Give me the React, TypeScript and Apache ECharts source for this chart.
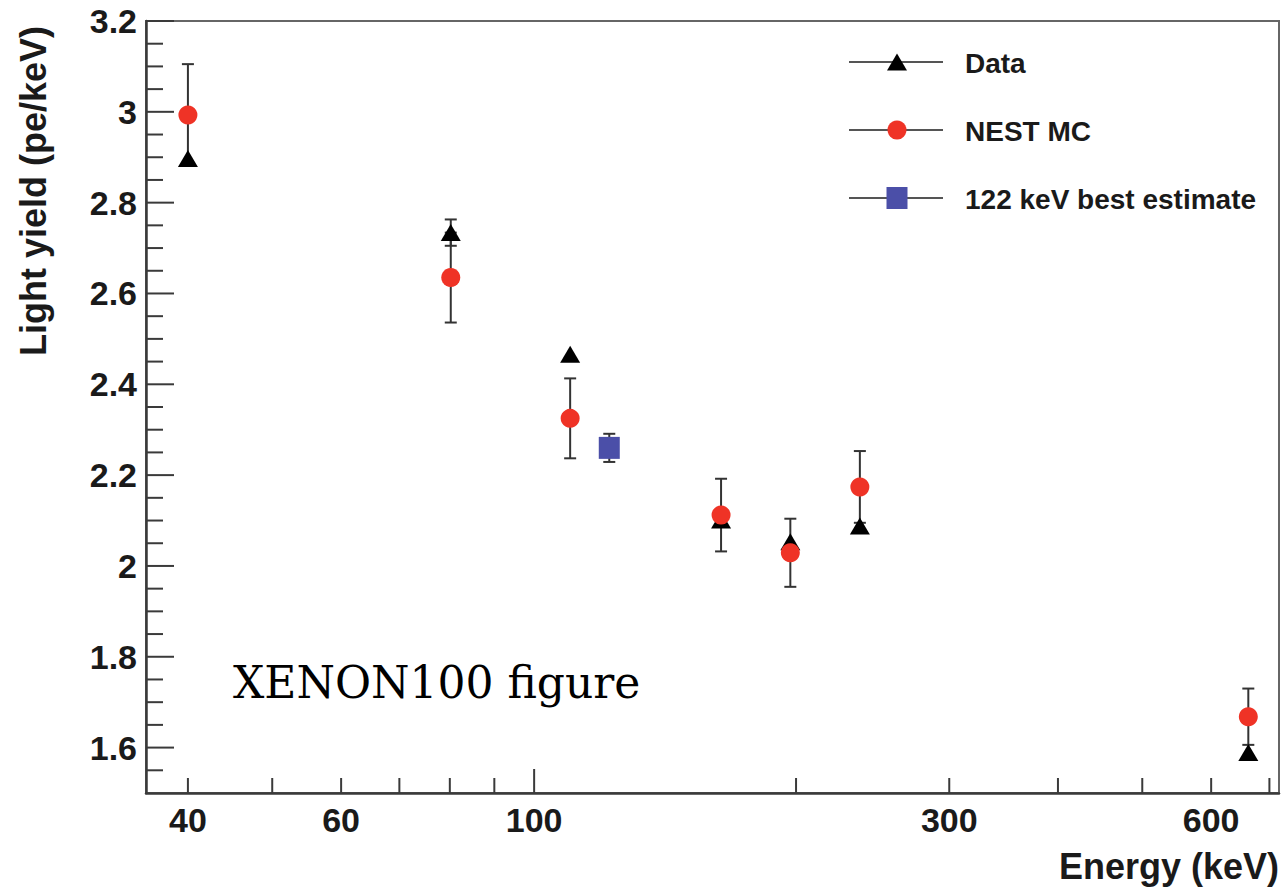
import React, { useEffect, useRef } from "react";
import * as echarts from "echarts";

// ---- data ----
const energies = [40, 80.2, 110, 164, 197, 236.8, 662];
const dataValues = [2.897, 2.734, 2.466, 2.101, 2.053, 2.088, 1.589];
const dataErrors = [0, 0.029, 0, 0, 0, 0, 0];
const nestValues = [2.993, 2.635, 2.325, 2.112, 2.029, 2.174, 1.668];
const nestErrors = [0.112, 0.099, 0.088, 0.08, 0.075, 0.079, 0.062];
const bestEnergies = [122];
const bestValues = [2.26];
const bestErrors = [0.031];

// ---- axes ----
const xMin = 35.8;
const xMax = 718;
const yMin = 1.5;
const yMax = 3.2;
const xTickValues = [40, 50, 60, 70, 80, 90, 100, 200, 300, 400, 500, 600, 700];
const xDecadeTicks = [100];
const xTickLabels = [40, 60, 100, 300, 600];
const yMajorTicks = [1.6, 1.8, 2.0, 2.2, 2.4, 2.6, 2.8, 3.0, 3.2];
const yTickLabels = ["1.6", "1.8", "2", "2.2", "2.4", "2.6", "2.8", "3", "3.2"];
const yMinorTicks = [
  1.55, 1.65, 1.7, 1.75, 1.85, 1.9, 1.95, 2.05, 2.1, 2.15, 2.25, 2.3, 2.35,
  2.45, 2.5, 2.55, 2.65, 2.7, 2.75, 2.85, 2.9, 2.95, 3.05, 3.1, 3.15,
];

const legendNames = ["Data", "NEST MC", "122 keV best estimate"];
const xTitle = "Energy (keV)";
const yTitle = "Light yield (pe/keV)";
const noteText = "XENON100 figure";

const SANS = "'Liberation Sans', Arial, Helvetica, sans-serif";
const AXIS_COLOR = "#3a3a3a";
const ERR_COLOR = "#333";
const RED = "#ef3326";
const BLUE = "#4b4fa8";

function errorBarSeries(name: string, xs: number[], vs: number[], es: number[]) {
  const data: number[][] = [];
  xs.forEach((x, i) => {
    if (es[i] > 0) data.push([x, vs[i] - es[i], vs[i] + es[i]]);
  });
  return {
    type: "custom",
    name,
    silent: true,
    z: 2,
    data,
    encode: { x: 0, y: [1, 2] },
    renderItem: (_p: any, api: any) => {
      const x = api.value(0);
      const lo = api.coord([x, api.value(1)]);
      const hi = api.coord([x, api.value(2)]);
      const cap = 6;
      const style = { stroke: ERR_COLOR, lineWidth: 2 };
      return {
        type: "group",
        children: [
          { type: "line", shape: { x1: lo[0], y1: lo[1], x2: hi[0], y2: hi[1] }, style },
          { type: "line", shape: { x1: lo[0] - cap, y1: lo[1], x2: lo[0] + cap, y2: lo[1] }, style },
          { type: "line", shape: { x1: hi[0] - cap, y1: hi[1], x2: hi[0] + cap, y2: hi[1] }, style },
        ],
      };
    },
  };
}

function txt(text: string, x: number, y: number, align: string, valign: string, size: number, extra: any = {}) {
  return {
    type: "text",
    style: {
      text,
      x,
      y,
      align,
      textAlign: align,
      verticalAlign: valign,
      textVerticalAlign: valign,
      fontSize: size,
      fontWeight: "bold",
      fontFamily: SANS,
      fill: "#1a1a1a",
      ...extra,
    },
  };
}

const axisDecor = {
  type: "custom",
  silent: true,
  z: 5,
  clip: false,
  data: [[100, 2]],
  renderItem: (_p: any, api: any) => {
    const children: any[] = [];
    const ls = { stroke: AXIS_COLOR, lineWidth: 2 };
    xTickValues.forEach((v) => {
      const p = api.coord([v, yMin]);
      const len = xDecadeTicks.includes(v) ? 24 : 15;
      children.push({ type: "line", shape: { x1: p[0], y1: p[1], x2: p[0], y2: p[1] - len }, style: ls });
    });
    xTickLabels.forEach((v) => {
      const p = api.coord([v, yMin]);
      children.push(txt(String(v), p[0], p[1] + 27, "center", "middle", 34));
    });
    yMajorTicks.forEach((v, i) => {
      const p = api.coord([xMin, v]);
      children.push({ type: "line", shape: { x1: p[0], y1: p[1], x2: p[0] + 28, y2: p[1] }, style: ls });
      children.push(txt(yTickLabels[i], p[0] - 9, p[1], "right", "middle", 34));
    });
    yMinorTicks.forEach((v) => {
      const p = api.coord([xMin, v]);
      children.push({ type: "line", shape: { x1: p[0], y1: p[1], x2: p[0] + 17, y2: p[1] }, style: ls });
    });
    return { type: "group", children };
  },
};

const legendText = (text: string, y: number) => ({
  type: "text",
  x: 965,
  y,
  style: {
    text,
    verticalAlign: "middle",
    textVerticalAlign: "middle",
    fontSize: 28,
    fontWeight: "bold",
    fontFamily: SANS,
    fill: "#1a1a1a",
  },
});

const option: any = {
  animation: false,
  backgroundColor: "#ffffff",
  grid: {
    left: 146,
    right: 4,
    top: 21,
    bottom: 96,
    show: true,
    borderColor: "#666",
    borderWidth: 2,
    backgroundColor: "transparent",
  },
  xAxis: {
    type: "log",
    logBase: 10,
    min: xMin,
    max: xMax,
    axisLine: { show: true, lineStyle: { color: AXIS_COLOR, width: 2.5 } },
    axisTick: { show: false },
    axisLabel: { show: false },
    splitLine: { show: false },
    minorSplitLine: { show: false },
  },
  yAxis: {
    type: "value",
    min: yMin,
    max: yMax,
    axisLine: { show: true, lineStyle: { color: AXIS_COLOR, width: 2.5 } },
    axisTick: { show: false },
    axisLabel: { show: false },
    splitLine: { show: false },
  },
  series: [
    errorBarSeries("Data err", energies, dataValues, dataErrors),
    errorBarSeries("NEST err", energies, nestValues, nestErrors),
    errorBarSeries("Best err", bestEnergies, bestValues, bestErrors),
    {
      type: "scatter",
      name: legendNames[0],
      z: 3,
      silent: true,
      symbol: "triangle",
      symbolSize: [20, 17],
      itemStyle: { color: "#000", opacity: 1 },
      data: energies.map((e, i) => [e, dataValues[i]]),
    },
    {
      type: "scatter",
      name: legendNames[1],
      z: 4,
      silent: true,
      symbol: "circle",
      symbolSize: 19,
      itemStyle: { color: RED, opacity: 1 },
      data: energies.map((e, i) => [e, nestValues[i]]),
    },
    {
      type: "scatter",
      name: legendNames[2],
      z: 4,
      silent: true,
      symbol: "rect",
      symbolSize: [21, 22],
      itemStyle: { color: BLUE, opacity: 1 },
      data: bestEnergies.map((e, i) => [e, bestValues[i]]),
    },
    axisDecor,
  ],
  graphic: [
    {
      type: "text",
      x: 33,
      y: 191,
      rotation: Math.PI / 2,
      style: {
        text: yTitle,
        align: "center",
        textAlign: "center",
        verticalAlign: "middle",
        textVerticalAlign: "middle",
        fontSize: 36,
        fontWeight: "bold",
        fontFamily: SANS,
        fill: "#1a1a1a",
      },
    },
    {
      type: "text",
      x: 1279,
      y: 866,
      style: {
        text: xTitle,
        align: "right",
        textAlign: "right",
        verticalAlign: "middle",
        textVerticalAlign: "middle",
        fontSize: 36,
        fontWeight: "bold",
        fontFamily: SANS,
        fill: "#1a1a1a",
      },
    },
    {
      type: "text",
      x: 233,
      y: 682,
      style: {
        text: noteText,
        align: "left",
        textAlign: "left",
        verticalAlign: "middle",
        textVerticalAlign: "middle",
        fontSize: 44,
        fontFamily: "'DejaVu Serif', serif",
        fill: "#000",
      },
    },
    {
      type: "group",
      children: [
        { type: "line", shape: { x1: 849, y1: 62, x2: 943, y2: 62 }, style: { stroke: "#555", lineWidth: 2 } },
        { type: "polygon", shape: { points: [[887, 70.5], [907, 70.5], [897, 53.5]] }, style: { fill: "#000" } },
        { type: "line", shape: { x1: 849, y1: 130, x2: 943, y2: 130 }, style: { stroke: "#555", lineWidth: 2 } },
        { type: "circle", shape: { cx: 897, cy: 130, r: 9.5 }, style: { fill: RED } },
        { type: "line", shape: { x1: 849, y1: 198, x2: 943, y2: 198 }, style: { stroke: "#555", lineWidth: 2 } },
        { type: "rect", shape: { x: 886.5, y: 187, width: 21, height: 22 }, style: { fill: BLUE } },
        legendText(legendNames[0], 63),
        legendText(legendNames[1], 131),
        legendText(legendNames[2], 199),
      ],
    },
  ],
};

export default function App() {
  const ref = useRef<HTMLDivElement>(null);
  useEffect(() => {
    if (!ref.current) return;
    const chart = echarts.init(ref.current, null, { renderer: "svg" });
    chart.setOption(option);
    return () => chart.dispose();
  }, []);
  return (
    <div
      ref={ref}
      style={{ position: "absolute", left: 0, top: 0, width: 1283, height: 889, background: "#fff" }}
    />
  );
}
